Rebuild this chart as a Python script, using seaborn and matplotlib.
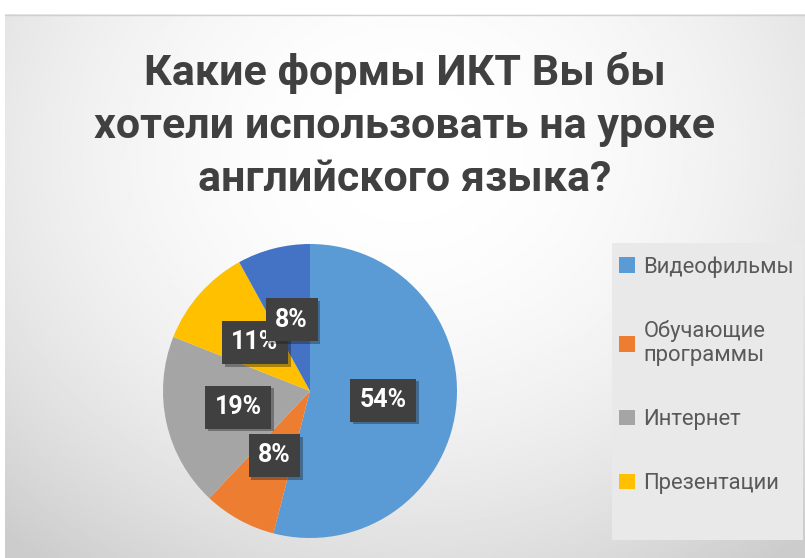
import numpy as np
import matplotlib
matplotlib.use("Agg")
import matplotlib.pyplot as plt
import matplotlib.patheffects as pe
from matplotlib.patches import Rectangle
import seaborn as sns

# ── Данные ───────────────────────────────────────
categories = ["Видеофильмы", "Обучающие программы", "Интернет", "Презентации", "Другое"]
shares = [54, 8, 19, 11, 8]
legend_labels = ["Видеофильмы", "Обучающие\nпрограммы", "Интернет", "Презентации"]
colors = ["#5B9BD5", "#ED7D31", "#A5A5A5", "#FFC000", "#4472C4"]
title = "Какие формы ИКТ Вы бы\nхотели использовать на уроке\nанглийского языка?"

sns.set_theme(style="white")
plt.rcParams["font.family"] = ["Roboto", "DejaVu Sans"]

W, H = 805, 558
fig = plt.figure(figsize=(W / 100, H / 100), dpi=100)
fig.patch.set_facecolor("white")

# ── Фон с градиентом ─────────────────────────────
bg = fig.add_axes([5 / W, 0, 800 / W, 544 / H])
yy, xx = np.mgrid[0:1:300j, 0:1:440j]
d = np.sqrt(((xx - 0.5) / 0.75) ** 2 + ((yy - 0.25) / 0.95) ** 2)
shade = 1.0 - 0.2 * np.clip(d, 0, 1) ** 2
bg.imshow(shade, cmap="gray", vmin=0, vmax=1, aspect="auto", extent=[0, 1, 1, 0])
bg.set_xlim(0, 1)
bg.set_ylim(1, 0)
bg.axis("off")
bg.axhline(0.001, color="#d0d0d0", lw=1)

# ── Заголовок ────────────────────────────────────
fig.text(405 / W, 1 - 126 / H, title, ha="center", va="center",
         fontsize=31, fontweight="bold", color="#404040", linespacing=1.38)

# ── Круговая диаграмма ───────────────────────────
cx, cy, r = 310, 391, 147
ax = fig.add_axes([(cx - r) / W, (H - cy - r) / H, 2 * r / W, 2 * r / H])
wedges, _, autotexts = ax.pie(
    shares, colors=colors, startangle=90, counterclock=False,
    autopct=lambda p: f"{p:.0f}%", pctdistance=0.5,
    wedgeprops=dict(linewidth=0),
    textprops=dict(color="white", fontsize=18, fontweight="bold"),
)
ax.set_xlim(-1, 1)
ax.set_ylim(-1, 1)
for t in autotexts:
    t.set_bbox(dict(boxstyle="square,pad=0.38", facecolor="#404040", edgecolor="none"))
    t.get_bbox_patch().set_path_effects(
        [pe.SimplePatchShadow(offset=(2, -2), alpha=0.35), pe.Normal()])

# ── Легенда ──────────────────────────────────────
fig.patches.append(Rectangle((612 / W, 1 - 540 / H), 191 / W, 297 / H,
                             transform=fig.transFigure, facecolor="#e9e9e9",
                             edgecolor="none", zorder=1))
leg = fig.legend(wedges[:4], legend_labels, loc="upper left",
                 bbox_to_anchor=(619 / W, 1 - 256 / H),
                 frameon=False, fontsize=15.8,
                 labelcolor="#595959", handlelength=0.72, handleheight=0.72,
                 handletextpad=0.4, labelspacing=1.95, borderpad=0,
                 borderaxespad=0)

fig.savefig("out.png", dpi=100)
